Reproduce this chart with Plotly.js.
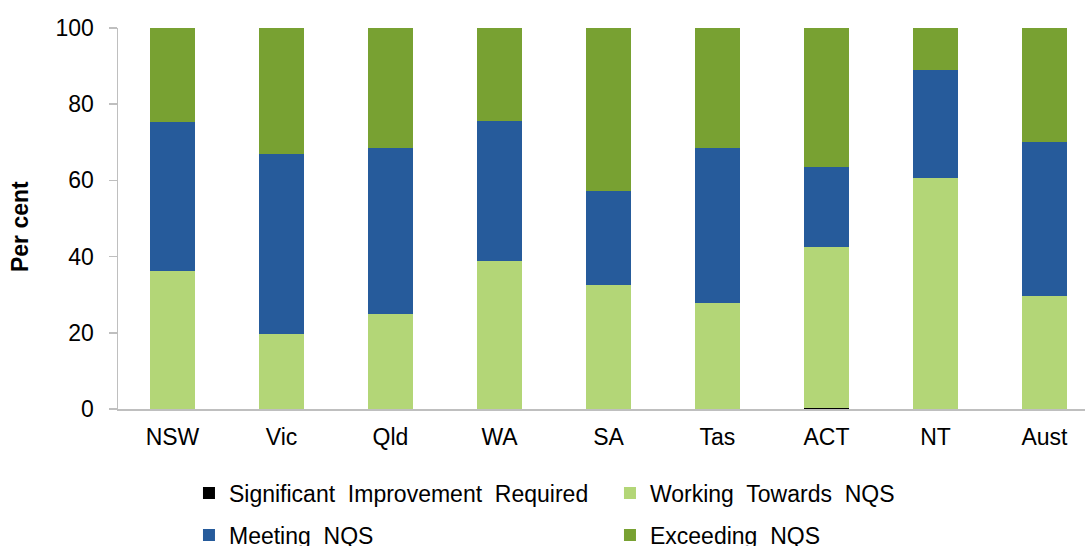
<!DOCTYPE html>
<html>
<head>
<meta charset="utf-8">
<script src="https://cdn.plot.ly/plotly-3.0.1.min.js"></script>
<style>html,body{margin:0;padding:0;background:#fff;}#chart{width:1087px;height:546px;}</style>
</head>
<body>
<div id="chart"></div>
<script>
var categories = ["NSW", "Vic", "Qld", "WA", "SA", "Tas", "ACT", "NT", "Aust"];
var significantImprovement = [0.1, 0.1, 0.1, 0.1, 0.0, 0.0, 0.3, 0.0, 0.1];
var workingTowards = [36.1, 19.5, 24.9, 38.7, 32.5, 27.9, 42.2, 60.6, 29.5];
var meetingNQS = [39.0, 47.2, 43.5, 36.9, 24.7, 40.6, 21.0, 28.4, 40.6];
var exceedingNQS = [24.8, 33.2, 31.5, 24.3, 42.8, 31.5, 36.5, 11.0, 29.8];
var seriesNames = ["Significant  Improvement  Required", "Working  Towards  NQS", "Meeting  NQS", "Exceeding  NQS"];
var yTicks = [0, 20, 40, 60, 80, 100];
var yTitle = "Per cent";

var colors = ["#000000", "#B3D677", "#265B9B", "#78A132"];
var legendIds = ["legend", "legend", "legend2", "legend2"];
var seriesData = [significantImprovement, workingTowards, meetingNQS, exceedingNQS];
var traces = seriesData.map(function (vals, i) {
  return {
    type: "bar",
    name: seriesNames[i],
    x: categories,
    y: vals,
    legend: legendIds[i],
    marker: {color: colors[i], line: {width: 0}},
    hoverinfo: "x+y+name"
  };
});

var legendBase = {
  orientation: "h",
  traceorder: "normal",
  xref: "paper",
  yref: "paper",
  x: 0.0734,
  xanchor: "left",
  yanchor: "middle",
  entrywidth: 376,
  entrywidthmode: "pixels",
  font: {size: 23},
  bgcolor: "rgba(0,0,0,0)"
};

var layout = {
  width: 1087,
  height: 546,
  barmode: "stack",
  bargap: 0.58,
  margin: {l: 118, r: 2, t: 28, b: 137, autoexpand: false},
  paper_bgcolor: "#ffffff",
  plot_bgcolor: "#ffffff",
  font: {family: "Liberation Sans, Arial, sans-serif", size: 23, color: "#000000"},
  showlegend: true,
  legend: Object.assign({}, legendBase, {y: -0.2205}),
  legend2: Object.assign({}, legendBase, {y: -0.3307}),
  xaxis: {
    type: "category",
    range: [-0.5, 8.372],
    showline: true,
    linecolor: "#BFBFBF",
    linewidth: 1.5,
    ticks: "",
    showgrid: false,
    zeroline: false,
    tickfont: {size: 23},
    ticklabelstandoff: 7,
    fixedrange: true
  },
  yaxis: {
    range: [0, 100],
    tickvals: yTicks,
    ticktext: yTicks.map(String),
    showline: true,
    linecolor: "#BFBFBF",
    linewidth: 1.5,
    ticks: "outside",
    ticklen: 8,
    tickcolor: "#BFBFBF",
    tickwidth: 1.5,
    ticklabelstandoff: 10,
    showgrid: false,
    zeroline: false,
    tickfont: {size: 23},
    fixedrange: true
  },
  annotations: [{
    text: "<b>" + yTitle + "</b>",
    textangle: -90,
    xref: "paper",
    yref: "paper",
    x: -0.1013,
    y: 0.4777,
    xanchor: "center",
    yanchor: "middle",
    showarrow: false,
    font: {size: 23}
  }]
};

Plotly.newPlot("chart", traces, layout, {displayModeBar: false, staticPlot: true});
</script>
</body>
</html>
